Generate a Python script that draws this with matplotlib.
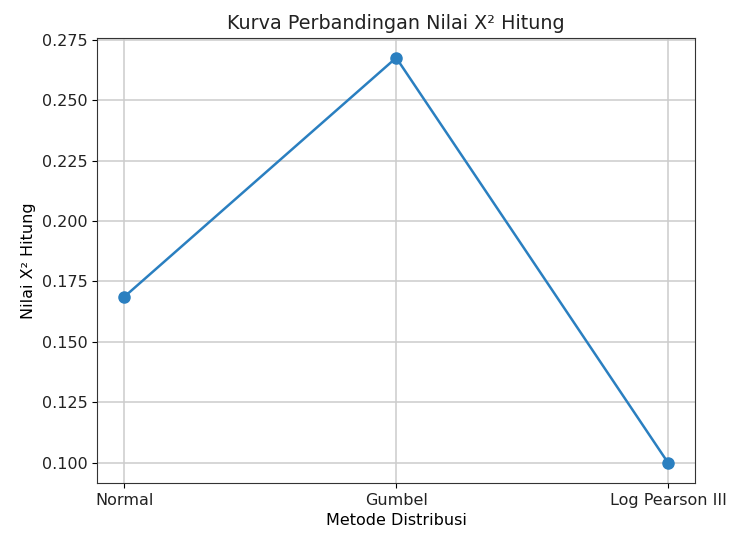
import matplotlib
matplotlib.use("Agg")
import matplotlib.pyplot as plt

# data
metode = ['Normal', 'Gumbel', 'Log Pearson III']
x2_hitung = [0.1687, 0.2676, 0.100]

plt.rcParams['font.size'] = 11.5
plt.rcParams['text.color'] = '#222222'
plt.rcParams['xtick.labelcolor'] = '#222222'
plt.rcParams['ytick.labelcolor'] = '#222222'

fig = plt.figure(figsize=(7.31, 5.36), dpi=100)
ax = fig.add_axes([0.133, 0.099, 0.818, 0.831])

ax.plot(metode, x2_hitung, marker='o', color='#2a7fc0', lw=1.8, ms=8)
ax.set_title('Kurva Perbandingan Nilai X² Hitung', fontsize=13.8)
ax.set_xlabel('Metode Distribusi')
ax.set_ylabel('Nilai X² Hitung')
ax.grid(True, color='#cccccc', lw=1.1)
for s in ax.spines.values():
    s.set_color('#333333')

fig.savefig('out.png', dpi=100)
